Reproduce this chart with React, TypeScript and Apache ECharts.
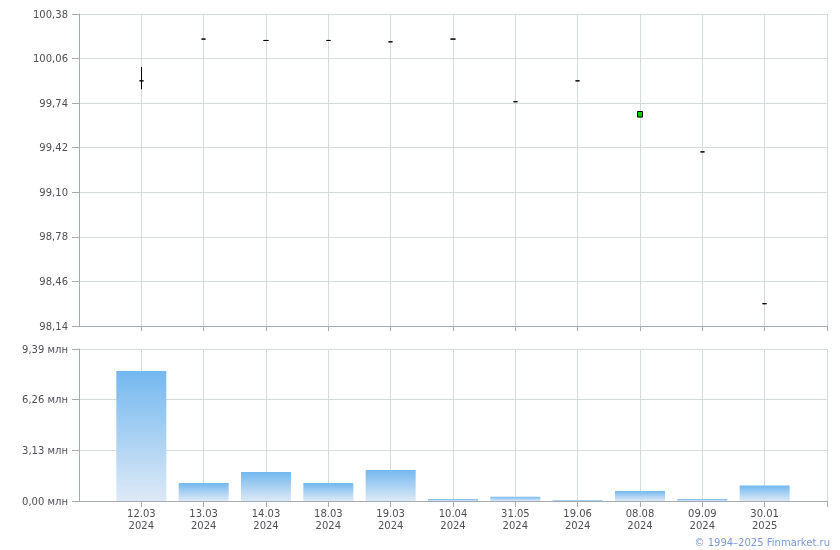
import React, { useEffect, useRef } from "react";
import * as echarts from "echarts";

const dates = ["12.03\n2024", "13.03\n2024", "14.03\n2024", "18.03\n2024", "19.03\n2024", "10.04\n2024", "31.05\n2024", "19.06\n2024", "08.08\n2024", "09.09\n2024", "30.01\n2025"];
const opens = [99.9, 100.2, 100.19, 100.19, 100.18, 100.2, 99.75, 99.9, 99.64, 99.39, 98.3];
const closes = [99.9, 100.2, 100.19, 100.19, 100.18, 100.2, 99.75, 99.9, 99.68, 99.39, 98.3];
const lows = [99.84, 100.2, 100.19, 100.19, 100.18, 100.2, 99.75, 99.9, 99.64, 99.39, 98.3];
const highs = [100.0, 100.2, 100.19, 100.19, 100.18, 100.2, 99.75, 99.9, 99.68, 99.39, 98.3];
const volumes = [8.03, 1.11, 1.79, 1.11, 1.91, 0.12, 0.27, 0.06, 0.62, 0.12, 0.95];
const priceTicks = { min: 98.14, max: 100.38, interval: 0.32 };
const volTicks = { min: 0, max: 9.39, interval: 3.13 };

const AXIS = "#a6aab2";
const GRID = "#d5dadd";
const LABEL = "#4f4f55";
const FONT = "DejaVu Sans";

export default function App() {
  const ref = useRef<HTMLDivElement>(null);
  useEffect(() => {
    if (!ref.current) return;
    const chart = echarts.init(ref.current, null, { renderer: "svg" });
    const cats = ["", ...dates, ""];
    const candle = [
      ["-", "-", "-", "-"],
      ...dates.map((_, i) => [opens[i], closes[i], lows[i], highs[i]]),
      ["-", "-", "-", "-"],
    ];
    const vols = ["-", ...volumes, "-"];
    const fmt = (v: number) => v.toFixed(2).replace(".", ",");
    const tickInt = (i: number) => i !== 0;
    chart.setOption({
      animation: false,
      textStyle: { fontFamily: FONT },
      grid: [
        { left: 79, right: 13, top: 14, height: 312 },
        { left: 79, right: 13, top: 349, height: 152 },
      ],
      xAxis: [
        {
          type: "category",
          gridIndex: 0,
          data: cats,
          boundaryGap: false,
          axisLine: { show: true, lineStyle: { color: AXIS } },
          axisTick: { show: true, length: 5, interval: tickInt, lineStyle: { color: AXIS } },
          axisLabel: { show: false },
          splitLine: { show: true, lineStyle: { color: GRID } },
        },
        {
          type: "category",
          gridIndex: 1,
          data: cats,
          boundaryGap: false,
          axisLine: { show: true, lineStyle: { color: AXIS } },
          axisTick: { show: true, length: 6, interval: tickInt, lineStyle: { color: AXIS } },
          axisLabel: {
            show: true,
            interval: 0,
            color: LABEL,
            fontFamily: FONT,
            fontSize: 10,
            lineHeight: 12,
            margin: 6,
          },
          splitLine: { show: true, lineStyle: { color: GRID } },
        },
      ],
      yAxis: [
        {
          type: "value",
          gridIndex: 0,
          min: priceTicks.min,
          max: priceTicks.max,
          interval: priceTicks.interval,
          axisLine: { show: true, lineStyle: { color: AXIS } },
          axisTick: { show: true, length: 7, lineStyle: { color: AXIS } },
          axisLabel: { color: LABEL, fontFamily: FONT, fontSize: 10, margin: 11, formatter: fmt },
          splitLine: { show: true, lineStyle: { color: GRID } },
        },
        {
          type: "value",
          gridIndex: 1,
          min: volTicks.min,
          max: volTicks.max,
          interval: volTicks.interval,
          axisLine: { show: true, lineStyle: { color: AXIS } },
          axisTick: { show: true, length: 7, lineStyle: { color: AXIS } },
          axisLabel: {
            color: LABEL,
            fontFamily: FONT,
            fontSize: 10,
            margin: 11,
            formatter: (v: number) => fmt(v) + " млн",
          },
          splitLine: { show: true, lineStyle: { color: GRID } },
        },
      ],
      series: [
        {
          type: "candlestick",
          xAxisIndex: 0,
          yAxisIndex: 0,
          data: candle,
          barWidth: 5,
          itemStyle: {
            color: "#00cc00",
            color0: "#ff2020",
            borderColor: "#000000",
            borderColor0: "#000000",
            borderColorDoji: "#000000",
            borderWidth: 1,
          },
        },
        {
          type: "bar",
          xAxisIndex: 1,
          yAxisIndex: 1,
          data: vols,
          barWidth: 50,
          itemStyle: {
            color: new echarts.graphic.LinearGradient(0, 0, 0, 1, [
              { offset: 0, color: "#74b8ef" },
              { offset: 1, color: "#dde9f6" },
            ]),
          },
        },
      ],
      graphic: [
        {
          type: "text",
          right: 10,
          top: 537,
          style: {
            text: "© 1994–2025 Finmarket.ru",
            fill: "#7b98d8",
            font: `10px "${FONT}"`,
          },
        },
      ],
    });
    return () => chart.dispose();
  }, []);
  return (
    <div
      ref={ref}
      style={{ position: "fixed", left: 0, top: 0, width: 840, height: 550 }}
    />
  );
}
